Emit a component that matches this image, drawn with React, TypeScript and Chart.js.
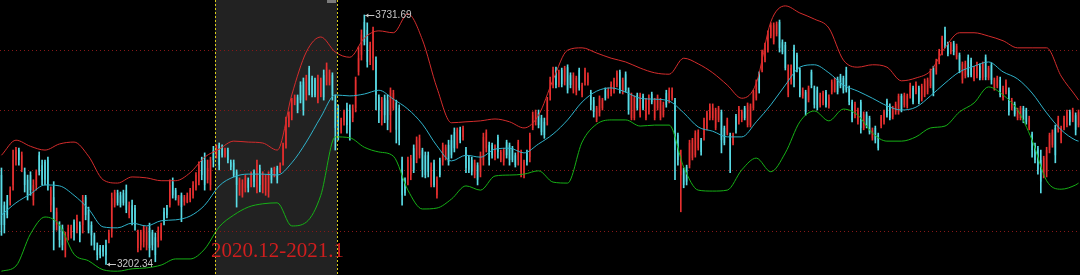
import React, { useEffect, useRef } from "react";
import { Chart, registerables } from "chart.js";

Chart.register(...registerables);

// ---- Daily candles (index price) ----
const opens = [
  3392,3328,3339,3339,3371,3424,3445,3403,3399,3382,
  3392,3339,3371,3434,3413,3420,3424,3328,3345,3286,
  3286,3280,3233,3262,3264,3293,3275,3286,3286,3345,
  3318,3286,3264,3243,3237,3241,3243,3254,3271,3328,
  3354,3349,3354,3360,3307,3328,3322,3237,3243,3250,
  3243,3280,3271,3260,3250,3258,3314,3322,3328,3378,
  3360,3333,3349,3335,3335,3339,3349,3365,3378,3428,
  3424,3382,3371,3445,3434,3456,3449,3434,3445,3420,
  3418,3399,3360,3349,3365,3382,3371,3399,3365,3407,
  3360,3360,3356,3403,3392,3407,3399,3420,3456,3498,
  3513,3545,3557,3583,3590,3562,3619,3598,3594,3551,
  3562,3604,3590,3587,3604,3551,3534,3488,3505,3534,
  3530,3513,3534,3611,3647,3717,3700,3632,3640,3636,
  3557,3509,3555,3551,3519,3534,3545,3534,3424,3382,
  3382,3392,3449,3424,3434,3445,3434,3434,3371,3418,
  3349,3424,3420,3430,3456,3466,3483,3456,3488,3473,
  3445,3428,3424,3392,3413,3399,3424,3449,3456,3456,
  3430,3473,3424,3420,3462,3456,3449,3434,3424,3399,
  3392,3441,3430,3492,3505,3524,3513,3505,3509,3562,
  3583,3615,3583,3615,3590,3621,3604,3572,3568,3615,
  3562,3590,3587,3568,3551,3509,3524,3534,3572,3560,
  3564,3572,3583,3611,3568,3606,3572,3513,3513,3562,
  3519,3560,3513,3526,3564,3513,3534,3513,3519,3566,
  3551,3555,3551,3477,3392,3403,3409,3413,3428,3434,
  3449,3466,3477,3492,3513,3513,3492,3509,3526,3492,
  3481,3477,3460,3517,3505,3509,3534,3498,3498,3534,
  3555,3606,3615,3636,3657,3687,3674,3691,3717,3674,
  3668,3562,3590,3662,3647,3615,3560,3568,3551,3611,
  3577,3572,3541,3545,3568,3538,3568,3572,3596,3602,
  3598,3615,3577,3547,3517,3505,3547,3492,3521,3513,
  3470,3492,3477,3496,3505,3549,3538,3515,3526,3526,
  3560,3541,3538,3560,3577,3568,3577,3553,3562,3568,
  3581,3619,3611,3632,3653,3700,3670,3653,3672,3642,
  3647,3594,3602,3642,3636,3596,3602,3623,3598,3642,
  3598,3626,3577,3581,3594,3555,3568,3572,3534,3543,
  3513,3513,3534,3530,3492,3479,3456,3449,3424,3392,
  3399,3445,3456,3492,3488,3466,3492,3498,3526,3509,
  3519,3498
];
const highs = [
  3407,3335,3349,3367,3445,3451,3449,3441,3407,3392,
  3399,3382,3403,3441,3424,3424,3430,3367,3378,3322,
  3293,3286,3271,3286,3286,3297,3307,3293,3349,3349,
  3324,3293,3269,3248,3243,3243,3254,3275,3354,3360,
  3360,3356,3360,3371,3335,3339,3328,3275,3275,3284,
  3282,3290,3275,3269,3282,3290,3322,3328,3382,3386,
  3364,3349,3354,3349,3354,3364,3378,3397,3420,3430,
  3439,3424,3430,3453,3456,3460,3456,3449,3449,3424,
  3424,3403,3386,3382,3392,3386,3399,3403,3424,3413,
  3399,3392,3399,3407,3409,3411,3418,3460,3515,3526,
  3555,3562,3562,3590,3598,3604,3623,3602,3598,3604,
  3598,3615,3630,3615,3609,3562,3541,3513,3530,3545,
  3541,3541,3600,3664,3700,3731.69,3715,3674,3706,3643,
  3562,3557,3562,3562,3577,3572,3551,3541,3430,3386,
  3430,3434,3456,3473,3477,3449,3441,3441,3418,3424,
  3388,3428,3460,3456,3466,3477,3492,3492,3494,3496,
  3451,3434,3430,3424,3418,3441,3481,3488,3462,3460,
  3456,3477,3445,3449,3466,3460,3453,3439,3466,3445,
  3424,3445,3481,3526,3530,3530,3519,3513,3557,3600,
  3621,3621,3615,3619,3623,3626,3609,3609,3602,3619,
  3587,3619,3609,3572,3557,3538,3560,3555,3577,3577,
  3590,3598,3613,3615,3598,3611,3577,3566,3560,3566,
  3566,3564,3555,3562,3568,3555,3562,3555,3547,3572,
  3577,3577,3555,3481,3445,3407,3413,3466,3470,3486,
  3488,3470,3513,3528,3543,3543,3534,3538,3530,3496,
  3513,3481,3481,3521,3538,3530,3538,3545,3543,3572,
  3594,3611,3657,3672,3698,3715,3715,3717,3721,3679,
  3674,3626,3626,3668,3651,3619,3577,3572,3581,3615,
  3581,3579,3566,3570,3572,3562,3594,3598,3600,3606,
  3602,3621,3581,3551,3547,3534,3551,3526,3526,3517,
  3492,3496,3481,3519,3530,3553,3543,3538,3547,3564,
  3564,3566,3564,3587,3581,3590,3581,3585,3596,3598,
  3617,3623,3638,3659,3687,3706,3674,3674,3676,3670,
  3651,3632,3634,3647,3640,3623,3632,3628,3632,3647,
  3623,3630,3598,3602,3600,3581,3594,3577,3555,3547,
  3534,3538,3538,3534,3517,3483,3460,3453,3445,3432,
  3451,3481,3488,3498,3517,3496,3517,3530,3530,3534,
  3524,3530
];
const lows = [
  3264,3269,3301,3328,3360,3413,3413,3399,3356,3339,
  3349,3328,3360,3392,3371,3371,3360,3314,3233,3275,
  3239,3233,3218,3254,3258,3254,3269,3250,3269,3297,
  3269,3243,3233,3212,3216,3220,3202.34,3248,3260,3324,
  3328,3324,3328,3312,3301,3286,3275,3229,3233,3239,
  3233,3218,3233,3208,3239,3254,3286,3301,3324,3343,
  3339,3328,3293,3328,3333,3335,3343,3360,3371,3382,
  3360,3375,3360,3409,3428,3403,3430,3430,3418,3403,
  3388,3324,3349,3345,3356,3356,3367,3367,3354,3356,
  3354,3349,3345,3375,3388,3375,3397,3413,3449,3494,
  3509,3541,3524,3545,3519,3551,3562,3558,3558,3545,
  3558,3551,3583,3583,3551,3445,3466,3481,3498,3481,
  3466,3505,3526,3604,3636,3668,3621,3626,3615,3530,
  3503,3498,3503,3488,3483,3530,3460,3456,3328,3349,
  3371,3382,3397,3418,3428,3388,3386,3388,3367,3367,
  3343,3388,3413,3424,3413,3428,3441,3449,3460,3466,
  3397,3397,3392,3386,3371,3388,3413,3441,3413,3428,
  3424,3428,3420,3413,3428,3413,3420,3409,3413,3388,
  3386,3413,3420,3488,3498,3492,3477,3470,3498,3551,
  3577,3577,3579,3579,3583,3566,3577,3566,3562,3572,
  3558,3583,3583,3530,3515,3505,3517,3530,3551,3555,
  3560,3566,3579,3566,3564,3568,3521,3509,3509,3530,
  3515,3530,3509,3521,3543,3509,3530,3509,3515,3536,
  3545,3551,3382,3413,3314,3365,3371,3407,3424,3430,
  3445,3434,3466,3488,3509,3509,3488,3505,3439,3456,
  3477,3397,3456,3481,3500,3505,3509,3494,3494,3530,
  3551,3566,3611,3632,3653,3683,3670,3687,3653,3649,
  3615,3558,3585,3579,3611,3558,3555,3519,3547,3577,
  3534,3530,3536,3541,3536,3534,3564,3568,3564,3577,
  3566,3568,3541,3505,3513,3500,3481,3488,3492,3479,
  3466,3460,3445,3492,3500,3515,3509,3511,3521,3521,
  3526,3536,3534,3555,3543,3564,3543,3549,3558,3564,
  3577,3560,3606,3628,3647,3662,3645,3649,3647,3638,
  3609,3587,3598,3600,3600,3592,3598,3594,3594,3594,
  3594,3585,3572,3577,3558,3551,3564,3519,3530,3517,
  3509,3509,3503,3500,3488,3430,3418,3394,3354,3386,
  3388,3439,3451,3418,3483,3460,3488,3494,3498,3505,
  3477,3494
];
const closes = [
  3286,3286,3307,3360,3424,3445,3424,3434,3371,3349,
  3360,3371,3399,3399,3382,3382,3371,3360,3275,3314,
  3254,3243,3264,3280,3282,3271,3301,3264,3339,3307,
  3275,3264,3243,3222,3222,3229,3222,3269,3343,3356,
  3333,3328,3333,3318,3328,3293,3286,3271,3271,3280,
  3271,3237,3243,3222,3275,3286,3293,3307,3371,3349,
  3343,3347,3324,3345,3349,3360,3371,3392,3413,3392,
  3371,3407,3424,3424,3451,3413,3434,3445,3424,3409,
  3392,3371,3382,3375,3386,3365,3392,3378,3413,3371,
  3392,3386,3392,3382,3407,3382,3413,3456,3509,3519,
  3551,3557,3530,3551,3530,3598,3572,3562,3562,3598,
  3594,3557,3621,3611,3562,3492,3498,3509,3526,3498,
  3488,3534,3594,3640,3690,3674,3632,3668,3700,3562,
  3530,3551,3519,3509,3572,3566,3488,3466,3349,3354,
  3424,3428,3403,3466,3470,3403,3392,3399,3409,3371,
  3382,3392,3456,3451,3420,3434,3449,3488,3466,3492,
  3407,3403,3399,3418,3382,3434,3473,3483,3424,3434,
  3449,3441,3441,3445,3434,3424,3424,3413,3462,3441,
  3420,3420,3477,3519,3526,3498,3483,3477,3551,3594,
  3615,3583,3611,3585,3619,3572,3583,3604,3598,3577,
  3583,3615,3604,3541,3526,3534,3555,3551,3555,3572,
  3585,3594,3609,3572,3594,3572,3530,3562,3555,3534,
  3562,3534,3551,3557,3547,3551,3557,3551,3541,3541,
  3572,3572,3445,3424,3434,3371,3378,3460,3466,3481,
  3483,3441,3509,3524,3538,3534,3530,3534,3466,3460,
  3509,3424,3477,3488,3534,3526,3513,3541,3538,3568,
  3590,3572,3653,3668,3693,3710,3710,3713,3662,3653,
  3619,3619,3619,3594,3615,3562,3572,3526,3577,3583,
  3541,3534,3562,3566,3541,3557,3590,3594,3568,3581,
  3572,3572,3547,3509,3543,3530,3492,3521,3496,3483,
  3488,3466,3449,3515,3526,3519,3513,3534,3543,3560,
  3530,3562,3560,3583,3547,3585,3547,3581,3592,3594,
  3613,3572,3634,3655,3683,3668,3649,3670,3653,3666,
  3615,3628,3630,3604,3604,3619,3628,3598,3628,3600,
  3619,3594,3594,3598,3562,3577,3590,3526,3551,3521,
  3530,3534,3509,3505,3513,3445,3424,3403,3378,3428,
  3445,3477,3483,3434,3513,3492,3513,3526,3505,3530,
  3488,3526
];

// ---- Bollinger bands, sampled at candle indices ----
const bandIdx = [
  0,5,10,15,20,25,30,35,40,45,50,55,60,65,70,75,80,85,90,95,
  100,105,110,115,120,125,130,135,140,145,150,155,160,165,170,175,180,185,190,195,
  200,205,210,215,220,225,230,235,240,245,250,255,260,265,270,275,280,285,290,295,
  300,305,310,315,320,325,330,335,340,345,350,355,360,365,370,371
];
const upperBand = [
  3434,3466,3453,3445,3458,3462,3432,3382,3375,3388,3386,3380,3380,3397,3430,3447,3464,3462,3460,3445,
  3562,3653,3685,3653,3642,3683,3698,3694,3734,3679,3577,3503,3505,3507,3511,3505,3492,3519,3594,3657,
  3662,3651,3640,3632,3619,3609,3606,3640,3628,3609,3583,3555,3587,3717,3751,3736,3723,3704,3636,3621,
  3626,3621,3592,3598,3613,3662,3694,3694,3687,3677,3662,3662,3662,3602,3560,3551
];
const midBand = [
  3307,3333,3352,3371,3369,3349,3320,3282,3280,3290,3284,3295,3297,3305,3328,3369,3388,3394,3394,3392,
  3418,3462,3515,3562,3560,3564,3572,3553,3532,3500,3454,3422,3434,3430,3447,3449,3439,3458,3479,3509,
  3547,3570,3577,3568,3555,3553,3549,3524,3494,3485,3473,3473,3505,3541,3583,3621,3626,3609,3583,3570,
  3555,3539,3530,3536,3560,3587,3611,3623,3632,3611,3596,3566,3524,3488,3466,3464
];
const lowerBand = [
  3188,3199,3267,3303,3286,3224,3210,3191,3188,3193,3195,3201,3214,3214,3235,3282,3307,3324,3331,3333,
  3284,3292,3349,3473,3471,3451,3441,3432,3360,3320,3322,3341,3369,3360,3390,3392,3394,3401,3377,3375,
  3462,3500,3509,3509,3496,3498,3498,3409,3360,3358,3360,3403,3428,3399,3439,3505,3528,3507,3532,3519,
  3481,3464,3464,3473,3492,3496,3526,3545,3579,3562,3530,3466,3380,3362,3371,3375
];

// ---- Reference levels and highlighted period ----
const gridLevels = [3657.4, 3530.1, 3402.2, 3273.9];
const shadeRange = [73.56, 115.58];
const periodLabel = "2020.12-2021.1";
const Y_MIN = 3179.9;
const Y_MAX = 3763.5;

const UP_BODY = "#761616";
const UP_WICK = "#e83030";
const DOWN_BODY = "#2a8890";
const DOWN_WICK = "#5adce6";

export default function App() {
  const ref = useRef<HTMLCanvasElement | null>(null);

  useEffect(() => {
    document.body.style.margin = "0";
    document.body.style.background = "#000";
    const canvas = ref.current;
    if (!canvas) return;

    const idx = opens.map((_, i) => i);
    const up = idx.map((i) => closes[i] >= opens[i]);
    const bodies = idx.map((i) => ({ x: i, y: [opens[i], closes[i]] }));
    const wicks = idx.map((i) => ({ x: i, y: [lows[i], highs[i]] }));
    const band = (vals: number[]) => bandIdx.map((x, k) => ({ x, y: vals[k] }));

    const backdrop = {
      id: "backdrop",
      beforeDraw(chart: any) {
        const { ctx, chartArea: a, scales } = chart;
        const xs = scales.x;
        const ys = scales.y;
        ctx.save();
        ctx.fillStyle = "#000";
        ctx.fillRect(0, 0, chart.width, chart.height);
        const x0 = xs.getPixelForValue(shadeRange[0]);
        const x1 = xs.getPixelForValue(shadeRange[1]);
        ctx.fillStyle = "#222222";
        ctx.fillRect(x0, 0, x1 - x0, chart.height);
        ctx.strokeStyle = "#861818";
        ctx.lineWidth = 1;
        ctx.setLineDash([1, 3]);
        for (const g of gridLevels) {
          const y = Math.round(ys.getPixelForValue(g)) + 0.5;
          ctx.beginPath();
          ctx.moveTo(a.left, y);
          ctx.lineTo(a.right, y);
          ctx.stroke();
        }
        ctx.restore();
      },
    };

    const drawMark = (ctx: any, x: number, y: number, text: string) => {
      ctx.strokeStyle = "#c8c8c8";
      ctx.fillStyle = "#c8c8c8";
      ctx.lineWidth = 1;
      ctx.setLineDash([]);
      const yy = Math.round(y) + 0.5;
      ctx.beginPath();
      ctx.moveTo(x + 1, yy);
      ctx.lineTo(x + 10, yy);
      ctx.stroke();
      ctx.beginPath();
      ctx.moveTo(x + 1, yy);
      ctx.lineTo(x + 4, yy - 2);
      ctx.lineTo(x + 4, yy + 2);
      ctx.closePath();
      ctx.fill();
      ctx.font = "10px 'Liberation Sans', Arial, sans-serif";
      ctx.textBaseline = "middle";
      ctx.textAlign = "left";
      ctx.fillText(text, x + 11, yy);
    };

    const overlay = {
      id: "overlay",
      afterDatasetsDraw(chart: any) {
        const { ctx, chartArea: a, scales } = chart;
        const xs = scales.x;
        const ys = scales.y;
        const x0 = xs.getPixelForValue(shadeRange[0]);
        const x1 = xs.getPixelForValue(shadeRange[1]);
        ctx.save();
        ctx.strokeStyle = "#d8cc1c";
        ctx.lineWidth = 1;
        ctx.setLineDash([2, 2]);
        for (const xv of [x0, x1]) {
          const x = Math.round(xv) + 0.5;
          ctx.beginPath();
          ctx.moveTo(x, 0);
          ctx.lineTo(x, chart.height);
          ctx.stroke();
        }
        ctx.setLineDash([]);
        ctx.fillStyle = "#7c7c7c";
        ctx.fillRect(Math.round(x1) - 10, 0, 9, 3);

        ctx.font = "21px 'Liberation Serif', 'DejaVu Serif', serif";
        ctx.fillStyle = "#d01e1e";
        ctx.textBaseline = "alphabetic";
        ctx.textAlign = "left";
        ctx.fillText(periodLabel, x0 - 4, a.bottom - 18);

        const maxH = Math.max(...highs);
        const minL = Math.min(...lows);
        const hi = highs.indexOf(maxH);
        const lo = lows.indexOf(minL);
        drawMark(ctx, xs.getPixelForValue(hi), ys.getPixelForValue(maxH), maxH.toFixed(2));
        drawMark(ctx, xs.getPixelForValue(lo), ys.getPixelForValue(minL), minL.toFixed(2));
        ctx.restore();
      },
    };

    const chart = new Chart(canvas, {
      type: "bar",
      data: {
        datasets: [
          {
            type: "line",
            label: "upper",
            data: band(upperBand),
            borderColor: "#d42c2c",
            borderWidth: 1,
            pointRadius: 0,
            cubicInterpolationMode: "monotone",
            order: 0,
          },
          {
            type: "line",
            label: "mid",
            data: band(midBand),
            borderColor: "#2fb2ca",
            borderWidth: 1,
            pointRadius: 0,
            cubicInterpolationMode: "monotone",
            order: 0,
          },
          {
            type: "line",
            label: "lower",
            data: band(lowerBand),
            borderColor: "#16b016",
            borderWidth: 1,
            pointRadius: 0,
            cubicInterpolationMode: "monotone",
            order: 0,
          },
          {
            type: "bar",
            label: "wick",
            data: wicks,
            backgroundColor: up.map((u) => (u ? UP_WICK : DOWN_WICK)),
            borderWidth: 0,
            grouped: false,
            categoryPercentage: 1,
            barPercentage: 1,
            maxBarThickness: 1,
            order: 1,
          },
          {
            type: "bar",
            label: "body",
            data: bodies,
            backgroundColor: up.map((u) => (u ? UP_BODY : DOWN_BODY)),
            borderWidth: 0,
            grouped: false,
            categoryPercentage: 1,
            barPercentage: 0.6,
            maxBarThickness: 1.7,
            order: 2,
          },
        ],
      } as any,
      options: {
        responsive: false,
        maintainAspectRatio: false,
        animation: false,
        events: [],
        layout: { padding: 0 },
        plugins: { legend: { display: false }, tooltip: { enabled: false } },
        scales: {
          x: { type: "linear", min: -0.5, max: 371.5, display: false, offset: false },
          y: { type: "linear", min: Y_MIN, max: Y_MAX, display: false },
        },
      } as any,
      plugins: [backdrop, overlay],
    });

    return () => chart.destroy();
  }, []);

  return (
    <div style={{ width: 1080, height: 275, background: "#000" }}>
      <canvas ref={ref} width={1080} height={275} style={{ display: "block" }} />
    </div>
  );
}
